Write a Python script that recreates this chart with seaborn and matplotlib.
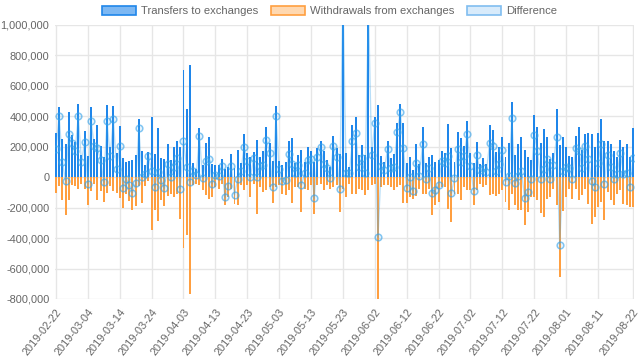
import matplotlib
matplotlib.use("Agg")
import matplotlib.pyplot as plt
from matplotlib.patches import Patch
from matplotlib.ticker import FuncFormatter, MultipleLocator
import pandas as pd
import seaborn as sb

# daily values, 2019-02-22 .. 2019-08-22
start_date = "2019-02-22"

transfers_in = [
    290, 460, 250, 220, 430, 275, 230, 480, 145, 305,
    140, 462, 252, 340, 203, 130, 472, 197, 470, 160,
    337, 128, 98, 107, 112, 148, 384, 172, 82, 166,
    393, 152, 323, 126, 118, 215, 110, 198, 236, 200,
    705, 448, 735, 92, 55, 322, 78, 224, 263, 88,
    80, 80, 118, 52, 70, 150, 58, 176, 92, 284,
    160, 131, 167, 244, 135, 175, 332, 222, 108, 468,
    105, 80, 100, 240, 255, 92, 145, 178, 101, 196,
    174, 101, 189, 240, 171, 112, 68, 270, 189, 152,
    1250, 156, 68, 343, 398, 145, 211, 145, 1220, 200,
    398, 475, 138, 101, 240, 123, 150, 358, 481, 358,
    95, 130, 50, 218, 86, 327, 95, 134, 149, 101,
    112, 171, 160, 347, 189, 101, 299, 255, 204, 371,
    160, 95, 229, 90, 123, 86, 343, 310, 167, 196,
    262, 134, 222, 497, 145, 218, 262, 178, 134, 116,
    409, 327, 226, 316, 262, 119, 156, 446, 211, 266,
    196, 138, 130, 270, 327, 178, 281, 292, 281, 200,
    292, 380, 240, 240, 218, 174, 130, 244, 196, 215,
    134, 321,
]

withdrawals_out = [
    103, 59, 147, 246, 147, 53, 59, 79, 46, 75,
    185, 92, 46, 147, 90, 163, 103, 59, 90, 103,
    134, 200, 108, 156, 213, 189, 59, 169, 59, 26,
    349, 218, 288, 147, 191, 125, 108, 130, 112, 275,
    464, 382, 767, 53, 42, 53, 86, 119, 141, 130,
    64, 75, 42, 185, 130, 75, 174, 185, 53, 86,
    53, 130, 42, 240, 64, 97, 86, 64, 169, 64,
    53, 108, 119, 86, 169, 64, 64, 229, 75, 86,
    53, 240, 53, 42, 86, 53, 75, 64, 53, 229,
    75, 130, 42, 108, 108, 75, 86, 119, 86, 53,
    42, 870, 64, 53, 53, 64, 86, 64, 53, 169,
    169, 130, 141, 125, 75, 112, 108, 75, 251, 185,
    163, 64, 64, 207, 295, 108, 112, 152, 64, 86,
    86, 185, 86, 42, 64, 53, 119, 108, 125, 108,
    86, 163, 213, 108, 185, 213, 218, 316, 229, 130,
    130, 152, 235, 262, 141, 130, 75, 185, 653, 222,
    130, 75, 141, 75, 152, 119, 75, 174, 306, 262,
    196, 163, 284, 97, 152, 185, 108, 86, 174, 185,
    196, 196,
]

dates = pd.date_range(start_date, periods=len(transfers_in), freq="D")
df = pd.DataFrame({
    "day": range(len(dates)),
    "in": [v * 1000 for v in transfers_in],
    "out": [-v * 1000 for v in withdrawals_out],
})
df["diff"] = df["in"] + df["out"]

sb.set_theme(style="white")
plt.rcParams["font.family"] = ["Liberation Sans", "DejaVu Sans"]

blue = "#1f86ea"
orange = "#ff9f40"
grey = "#666666"

fig = plt.figure(figsize=(6.4, 3.61), dpi=100)
ax = fig.add_axes([55 / 640, 1 - 299 / 361, 579 / 640, 274 / 361])

sb.barplot(data=df, x="day", y="in", color=blue, width=0.62, native_scale=True,
           saturation=1, ax=ax, linewidth=0)
sb.barplot(data=df, x="day", y="out", color=orange, width=0.62, native_scale=True,
           saturation=1, ax=ax, linewidth=0)
for p in ax.patches:
    p.set_antialiased(False)

n_lines = len(ax.lines)
sb.lineplot(data=df, x="day", y="diff", ax=ax, color=(0.21, 0.64, 0.92, 0.35),
            linewidth=1.0, marker="o", markersize=4.8,
            markerfacecolor=(0.21, 0.64, 0.92, 0.12),
            markeredgecolor=(0.21, 0.64, 0.92, 0.6), markeredgewidth=1.1)
for ln in ax.lines[n_lines:]:
    ln.set_zorder(10)

ax.set_ylim(-800000, 1000000)
ax.set_xlim(-0.3, len(dates) - 1 + 0.3)
ax.yaxis.set_major_locator(MultipleLocator(200000))
ax.yaxis.set_major_formatter(FuncFormatter(lambda v, p: f"{int(v):,}"))

last = len(dates) - 1
tick_pos = list(range(0, last - 5, 10)) + [last]
ax.set_xticks(tick_pos)
ax.set_xticklabels([dates[i].strftime("%Y-%m-%d") for i in tick_pos],
                   rotation=52, ha="right", rotation_mode="anchor")

ax.grid(True, color="#e6e6e6", linewidth=1, zorder=0)
ax.set_axisbelow(True)
for s in ax.spines.values():
    s.set_visible(False)
ax.tick_params(axis="y", colors=grey, labelsize=7.9, length=0, pad=4)
ax.tick_params(axis="x", colors=grey, labelsize=7.9, length=0, pad=6)
ax.set_xlabel("")
ax.set_ylabel("")

handles = [
    Patch(facecolor="#7db8f3", edgecolor=blue, linewidth=1.2, label="Transfers to exchanges"),
    Patch(facecolor="#ffd8b0", edgecolor=orange, linewidth=1.2, label="Withdrawals from exchanges"),
    Patch(facecolor="#d8ebfb", edgecolor="#80bdf0", linewidth=1.2, label="Difference"),
]
fig.legend(handles=handles, loc="center", bbox_to_anchor=(0.515, 1 - 11 / 361), ncol=3,
           frameon=False, fontsize=8.1, labelcolor=grey, handlelength=3.0,
           handleheight=0.9, handletextpad=0.5, columnspacing=1.1)

fig.savefig("out.png", dpi=100)
